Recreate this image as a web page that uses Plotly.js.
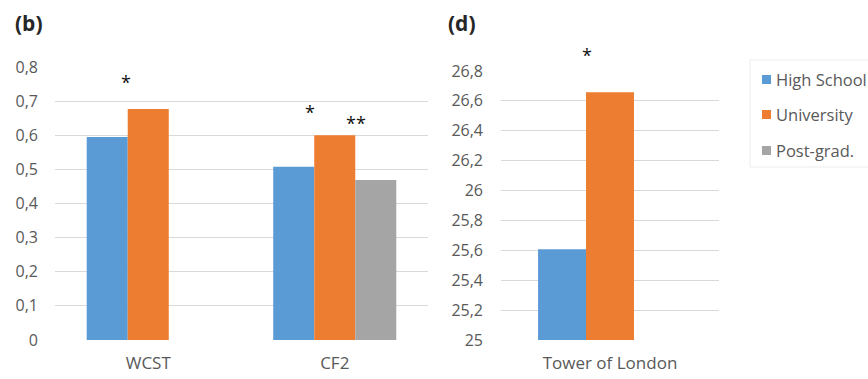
<!DOCTYPE html>
<html><head><meta charset="utf-8">
<script src="https://cdn.plot.ly/plotly-3.0.1.min.js"></script>
<style>html,body{margin:0;padding:0;background:#fff}#c{width:868px;height:379px}</style>
</head><body><div id="c"></div>
<script>
const seriesNames = ['High School', 'University', 'Post-grad.'];
const seriesColors = ['#5B9BD5', '#ED7D31', '#A5A5A5'];
const categoriesB = ['WCST', 'CF2'];
const highSchoolB = [0.595, 0.508];
const universityB = [0.677, 0.600];
const postGradB = [null, 0.469];
const categoriesD = ['Tower of London'];
const highSchoolD = [25.607];
const universityD = [26.657];
const postGradD = [null];
const tickValsB = [0, 0.1, 0.2, 0.3, 0.4, 0.5, 0.6, 0.7, 0.8];
const tickTextB = ['0', '0,1', '0,2', '0,3', '0,4', '0,5', '0,6', '0,7', '0,8'];
const tickValsD = [25, 25.2, 25.4, 25.6, 25.8, 26, 26.2, 26.4, 26.6, 26.8];
const tickTextD = ['25', '25,2', '25,4', '25,6', '25,8', '26', '26,2', '26,4', '26,6', '26,8'];

const W = 868, H = 379;
const FONT = 'Open Sans, Liberation Sans, sans-serif';
const GREY = '#595959';

const dataB = [highSchoolB, universityB, postGradB];
const dataD = [highSchoolD, universityD, postGradD];
const traces = [];
dataB.forEach((vals, i) => traces.push({
  type: 'bar', x: categoriesB, y: vals, name: seriesNames[i],
  marker: {color: seriesColors[i]}, legendgroup: 'g' + i,
  xaxis: 'x', yaxis: 'y', showlegend: false
}));
dataD.forEach((vals, i) => traces.push({
  type: 'bar', x: categoriesD, y: vals, name: seriesNames[i],
  marker: {color: seriesColors[i]}, legendgroup: 'g' + i,
  xaxis: 'x2', yaxis: 'y2', showlegend: false
}));

const px = v => v / W;
const py = v => 1 - v / H;
const axCommon = {
  showline: false, ticks: '', automargin: false,
  tickfont: {family: FONT, size: 16, color: GREY},
  gridcolor: '#D9D9D9', gridwidth: 1, zeroline: false, fixedrange: true
};
const xTickFont = {family: FONT, size: 17, color: GREY};

// legend (square swatch + text), placed like the reference
const legendRowsY = [79.5, 114.5, 150.5];
const legendShapes = seriesNames.map((n, i) => ({
  type: 'rect', xref: 'paper', yref: 'paper',
  x0: px(762), x1: px(771), y0: py(legendRowsY[i] - 4.5), y1: py(legendRowsY[i] + 4.5),
  line: {width: 0}, fillcolor: seriesColors[i]
}));
const legendTexts = seriesNames.map((n, i) => ({
  xref: 'paper', yref: 'paper', x: px(774), y: py(legendRowsY[i]),
  text: n, showarrow: false, xanchor: 'left', yanchor: 'middle',
  font: {family: FONT, size: 16.5, color: GREY}
}));

const starFont = {family: FONT, size: 18, color: '#111'};

const layout = {
  width: W, height: H,
  margin: {l: 0, r: 0, t: 0, b: 0},
  paper_bgcolor: '#fff', plot_bgcolor: '#fff',
  barmode: 'group', bargap: 0.34, bargroupgap: 0,
  font: {family: FONT, color: GREY},
  xaxis: Object.assign({}, axCommon, {domain: [px(55), px(428)], anchor: 'y', type: 'category', showgrid: false, ticklabelstandoff: 11, tickfont: xTickFont}),
  yaxis: Object.assign({}, axCommon, {domain: [py(340), py(67)], anchor: 'x', range: [0, 0.8], tickvals: tickValsB, ticktext: tickTextB, ticklabelstandoff: 16}),
  xaxis2: Object.assign({}, axCommon, {domain: [px(501), px(719)], anchor: 'y2', type: 'category', showgrid: false, ticklabelstandoff: 11, tickfont: xTickFont}),
  yaxis2: Object.assign({}, axCommon, {domain: [py(340), py(71)], anchor: 'x2', range: [25, 26.8], tickvals: tickValsD, ticktext: tickTextD, ticklabelstandoff: 17}),
  showlegend: false,
  shapes: [{
    type: 'rect', xref: 'paper', yref: 'paper',
    x0: px(750), x1: px(880), y0: py(60), y1: py(167),
    line: {color: '#EDEDED', width: 1}, fillcolor: 'rgba(0,0,0,0)'
  }].concat(legendShapes),
  annotations: [
    {xref: 'paper', yref: 'paper', x: px(13), y: py(23), text: '<b>(b)</b>', showarrow: false, xanchor: 'left', yanchor: 'middle', font: {family: FONT, size: 21, color: '#262626'}},
    {xref: 'paper', yref: 'paper', x: px(446), y: py(23), text: '<b>(d)</b>', showarrow: false, xanchor: 'left', yanchor: 'middle', font: {family: FONT, size: 21, color: '#262626'}},
    {xref: 'x', yref: 'y', x: -0.118, y: 0.755, text: '*', showarrow: false, font: starFont},
    {xref: 'x', yref: 'y', x: 0.866, y: 0.668, text: '*', showarrow: false, font: starFont},
    {xref: 'x', yref: 'y', x: 1.113, y: 0.636, text: '**', showarrow: false, font: starFont},
    {xref: 'paper', yref: 'paper', x: px(587), y: py(55), text: '*', showarrow: false, xanchor: 'center', yanchor: 'middle', font: starFont}
  ].concat(legendTexts)
};

Plotly.newPlot('c', traces, layout, {staticPlot: true, displayModeBar: false});
</script>
</body></html>
